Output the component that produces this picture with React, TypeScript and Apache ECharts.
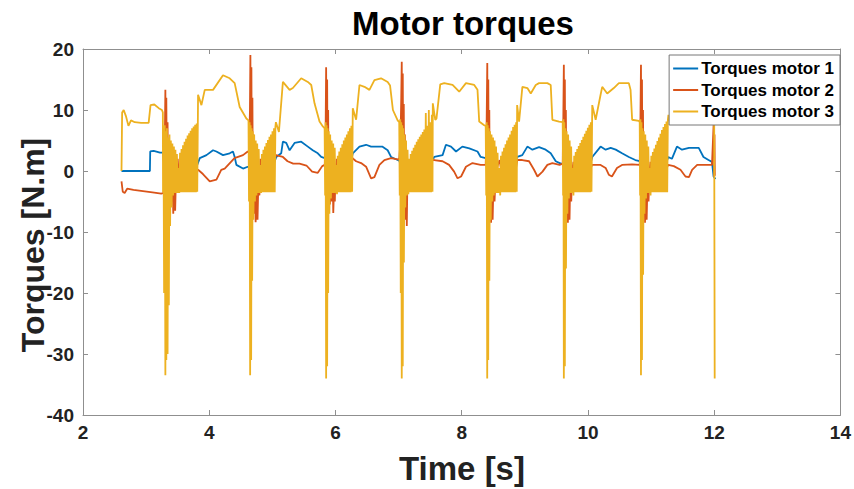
import React, { useEffect, useRef } from "react";
import * as echarts from "echarts";

// ---------- data (time [s], torque [N.m]) ----------
const seriesNames = ["Torques motor 1", "Torques motor 2", "Torques motor 3"];
const seriesColors = ["#0072BD", "#D95319", "#EDB120"];

// Motor 1 (blue)
const m1Start = [[2.61,0],[3.06,0],[3.065,3.2],[3.12,3.3],[3.22,3.0],[3.265,3.0]];
const m1Cycle1 = [[3.28,1.5],[3.31,-1],[3.35,0.5],[3.40,-1.5],[3.45,0.5],[3.50,-1.5],[3.53,-2.3],[3.60,-1.5],[3.70,-1.0],[3.75,-0.5],[3.81,1.0],[3.85,2.1],[3.956,2.6],[4.06,3.4],[4.113,3.2],[4.218,2.6],[4.324,2.9],[4.376,3.2],[4.403,2.3],[4.43,1.0],[4.535,0.4],[4.61,0.7]];
const m1Cycle2 = [[4.64,0.5],[4.70,-1.5],[4.76,0.5],[4.81,-1.5],[4.90,-1.0],[5.00,0.5],[5.062,2.3],[5.14,2.9],[5.167,4.8],[5.22,4.6],[5.273,3.4],[5.352,4.6],[5.457,4.8],[5.562,4.0],[5.64,3.4],[5.72,2.9],[5.774,2.3],[5.83,2.1]];
const m1Cycle3 = [[5.86,0.5],[5.92,-1.5],[5.98,0.5],[6.03,-1.5],[6.12,-1.0],[6.22,0.5],[6.274,2.9],[6.38,4.0],[6.485,4.3],[6.564,4.0],[6.74,4.0],[6.827,3.4],[6.88,2.3],[6.985,1.8],[7.01,1.7]];
const m1Cycle4 = [[7.05,0.5],[7.10,-1.5],[7.16,0.5],[7.22,-1.5],[7.35,-1.0],[7.48,0.5],[7.565,2.3],[7.697,2.6],[7.75,4.3],[7.83,4.0],[7.91,3.2],[8.01,4.0],[8.12,3.7],[8.25,3.2],[8.30,2.3],[8.38,2.1]];
const m1Cycle5 = [[8.41,0.5],[8.46,-1.5],[8.52,0.5],[8.60,-1.5],[8.70,-1.0],[8.80,0.5],[8.88,2.3],[8.96,2.6],[9.04,4.0],[9.12,3.5],[9.225,3.9],[9.33,3.5],[9.41,2.9],[9.49,1.6],[9.57,1.2],[9.60,1.2]];
const m1Cycle6 = [[9.62,0.5],[9.68,-1.5],[9.74,0.5],[9.80,-1.5],[9.92,-1.0],[10.02,0.5],[10.068,2.3],[10.20,4.0],[10.28,3.5],[10.36,3.8],[10.44,3.5],[10.54,2.9],[10.648,2.3],[10.75,1.8],[10.82,1.6]];
const m1Cycle7 = [[10.84,0.5],[10.90,-1.5],[10.96,0.5],[11.02,-1.5],[11.12,-1.0],[11.22,0.5],[11.27,2.3],[11.33,2.0],[11.41,4.0],[11.49,3.5],[11.60,3.8],[11.755,3.8],[11.83,2.3],[11.91,1.8],[11.965,1.5],[11.99,-0.9],[12.02,-1.3]];

// Motor 2 (red)
const m2Start = [[2.61,-1.7],[2.63,-3.4],[2.66,-3.6],[2.70,-2.9],[2.80,-3.1],[2.95,-3.3],[3.10,-3.5],[3.24,-3.7],[3.28,-3.6]];
const m2Cycle1 = [[3.295,4],[3.305,13.3],[3.312,-2],[3.32,12],[3.33,-5],[3.34,8],[3.35,-6],[3.36,4],[3.375,-5.5],[3.39,1],[3.40,-5],[3.415,0],[3.43,-7],[3.445,-1],[3.46,-6.5],[3.475,0],[3.49,-2],[3.50,2.0],[3.52,-1],[3.56,0.5],[3.60,-1.5],[3.66,0.5],[3.72,-1.0],[3.78,0.3],[3.823,0.2],[3.90,-0.5],[4.008,-1.7],[4.114,-1.4],[4.19,0.2],[4.245,0.4],[4.40,2.1],[4.535,2.6],[4.61,3.2]];
const m2Cycle2 = [[4.63,3.0],[4.645,10],[4.652,19.0],[4.66,-3],[4.668,17],[4.676,-5],[4.684,12],[4.692,-6],[4.70,6],[4.71,-7],[4.72,2],[4.735,-8.4],[4.75,-2],[4.765,-8.0],[4.78,-1],[4.795,-4],[4.81,2.0],[4.83,-1.5],[4.87,0.5],[4.93,-1.5],[4.99,0.5],[5.04,2.0],[5.056,2.6],[5.167,2.3],[5.241,1.6],[5.33,1.2],[5.43,1.2],[5.54,0.9],[5.63,-0.1],[5.72,-0.3],[5.79,0.8],[5.83,1.0]];
const m2Cycle3 = [[5.845,8],[5.852,17.0],[5.86,-3],[5.868,15],[5.876,-4],[5.884,10],[5.892,-5],[5.90,5],[5.912,-5.5],[5.925,0],[5.94,-5],[5.955,0],[5.965,-6.9],[5.98,-2],[5.99,-5],[6.00,0],[6.02,2.0],[6.05,-1.5],[6.10,0.5],[6.16,-1.5],[6.22,0.5],[6.27,2.1],[6.327,1.6],[6.406,1.3],[6.485,0.7],[6.564,-1.2],[6.617,-1.0],[6.696,1.0],[6.775,1.8],[6.88,2.1],[6.985,1.9],[7.01,2.0]];
const m2Cycle4 = [[7.03,5],[7.042,12],[7.05,17.9],[7.058,-2],[7.066,16],[7.074,-4],[7.082,11],[7.09,-5],[7.10,6],[7.11,-8],[7.12,0],[7.13,-9],[7.14,-1],[7.15,-3],[7.16,1.8],[7.20,-1.5],[7.28,0.5],[7.36,-1.5],[7.44,0.5],[7.53,1.8],[7.565,1.8],[7.697,1.6],[7.80,1.0],[7.88,-0.1],[7.934,-1.2],[7.99,-0.9],[8.067,0.7],[8.17,1.3],[8.30,1.0],[8.38,1.0]];
const m2Cycle5 = [[8.395,8],[8.405,17.7],[8.413,-3],[8.421,15],[8.429,-4],[8.437,10],[8.445,-6],[8.455,5],[8.465,-8.5],[8.478,0],[8.49,-8],[8.505,-1],[8.52,-5],[8.54,0],[8.60,1.8],[8.65,-1.5],[8.72,0.5],[8.79,-1.5],[8.86,0.5],[8.88,1.8],[8.96,1.8],[9.067,1.6],[9.146,0.2],[9.20,-0.9],[9.28,-0.1],[9.357,1.0],[9.436,1.3],[9.55,1.0],[9.60,1.2]];
const m2Cycle6 = [[9.61,9],[9.618,17.4],[9.626,-3],[9.634,15],[9.642,-4],[9.65,10],[9.66,-6],[9.67,5],[9.682,-8.5],[9.695,0],[9.708,-8],[9.72,-1],[9.735,-5],[9.75,0],[9.77,1.5],[9.82,-1.5],[9.90,0.5],[9.97,-1.5],[10.04,0.5],[10.068,1.0],[10.20,1.0],[10.28,0.5],[10.33,-0.6],[10.38,-0.9],[10.46,0.5],[10.54,1.0],[10.70,1.1],[10.82,1.0]];
const m2Cycle7 = [[10.832,9],[10.84,17.4],[10.848,-3],[10.856,15],[10.864,-4],[10.872,10],[10.882,-6],[10.892,5],[10.904,-8.5],[10.917,0],[10.93,-8],[10.945,-1],[10.96,-5],[10.975,0],[10.99,1.5],[11.05,-1.5],[11.12,0.5],[11.19,-1.5],[11.25,0.5],[11.27,1.0],[11.36,0.8],[11.466,0.2],[11.545,-0.9],[11.60,-1.0],[11.65,0.2],[11.73,1.0],[11.86,1.0],[11.965,1.0],[11.995,8.7],[12.0,-1.0],[12.005,6],[12.01,-0.8]];

// Motor 3 (yellow)
const m3Start = [[2.61,0],[2.62,9.6],[2.645,10.0],[2.68,9.0],[2.72,7.4],[2.76,8.3],[2.82,8.0],[2.92,7.9],[3.04,7.9],[3.07,10.8],[3.13,10.9],[3.2,10.3],[3.25,10.0],[3.265,9.6]];
const m3Cycle1 = [[3.268,-3.5],[3.275,6.8],[3.285,-20],[3.295,7.5],[3.305,-33.5],[3.312,6.5],[3.32,-31],[3.33,7.0],[3.34,-30],[3.35,5.5],[3.36,-22],[3.37,6.0],[3.38,-9],[3.392,5.0],[3.404,-6],[3.416,4.5],[3.428,-4],[3.44,4.0],[3.452,-3.6],[3.464,3.5],[3.476,-3.6],[3.488,2.8],[3.5,-3.6],[3.512,0.5],[3.525,-3.6],[3.537,3.0],[3.549,-3.5],[3.561,3.6],[3.573,-3.5],[3.585,4.2],[3.597,-3.5],[3.609,4.8],[3.621,-3.5],[3.633,5.3],[3.645,-3.5],[3.657,5.8],[3.669,-3.5],[3.681,6.2],[3.693,-3.5],[3.705,6.6],[3.717,-3.5],[3.729,7.0],[3.741,-3.5],[3.753,7.3],[3.765,-3.5],[3.777,7.6],[3.789,-3.5],[3.801,7.8],[3.81,-3.4],[3.823,12.5],[3.876,10.8],[3.929,13.3],[4.06,13.3],[4.218,15.7],[4.324,15.2],[4.403,14.4],[4.482,10.5],[4.588,8.6],[4.622,8.3]];
const m3Cycle2 = [[4.63,-5],[4.64,8.0],[4.648,-33.5],[4.656,7.5],[4.664,-31],[4.672,7.0],[4.68,-18],[4.69,6.5],[4.7,-8],[4.712,6.0],[4.724,-5],[4.736,5.0],[4.748,-4],[4.76,4.5],[4.772,-3.6],[4.784,3.6],[4.796,-3.6],[4.81,1.0],[4.822,-3.6],[4.834,2.8],[4.846,-3.5],[4.858,3.5],[4.87,-3.5],[4.882,4.0],[4.894,-3.5],[4.906,4.6],[4.918,-3.5],[4.93,5.1],[4.942,-3.5],[4.954,5.6],[4.966,-3.5],[4.978,6.0],[4.99,-3.5],[5.002,6.5],[5.014,-3.5],[5.026,7.0],[5.038,-3.5],[5.048,7.2],[5.056,8.0],[5.104,6.4],[5.167,14.6],[5.273,13.3],[5.325,13.6],[5.457,15.2],[5.562,14.6],[5.616,14.1],[5.668,11.1],[5.747,8.1],[5.8,7.3],[5.828,7.0]];
const m3Cycle3 = [[5.836,-4],[5.844,8.0],[5.852,-34],[5.86,7.5],[5.868,-32],[5.876,7.0],[5.884,-20],[5.894,6.5],[5.904,-7],[5.916,6.0],[5.928,-4.5],[5.94,5.0],[5.952,-3.6],[5.964,4.5],[5.976,-3.6],[5.988,3.8],[6.0,-3.6],[6.012,1.0],[6.024,-3.8],[6.036,2.5],[6.048,-3.5],[6.06,3.2],[6.072,-3.5],[6.084,3.8],[6.096,-3.5],[6.108,4.4],[6.12,-3.5],[6.132,5.0],[6.144,-3.5],[6.156,5.5],[6.168,-3.5],[6.18,6.0],[6.192,-3.5],[6.204,6.5],[6.216,-3.5],[6.228,7.0],[6.24,-3.5],[6.252,7.4],[6.264,-3.4],[6.274,10.3],[6.327,8.4],[6.38,14.1],[6.459,13.8],[6.538,13.3],[6.617,14.9],[6.722,15.2],[6.827,14.6],[6.865,14.0],[6.91,10.0],[6.985,8.3],[7.01,8.0]];
const m3Cycle4 = [[7.018,-4],[7.026,8.5],[7.034,-20],[7.042,8.0],[7.05,-34],[7.058,7.5],[7.066,-32],[7.074,7.0],[7.084,-15],[7.094,6.0],[7.106,-6],[7.118,5.0],[7.13,-4],[7.142,3.5],[7.155,-3.8],[7.167,2.0],[7.179,-3.5],[7.191,2.8],[7.203,-3.5],[7.215,3.3],[7.227,-3.5],[7.239,3.8],[7.251,-3.5],[7.263,4.3],[7.275,-3.5],[7.287,4.8],[7.299,-3.5],[7.311,5.2],[7.323,-3.5],[7.335,5.6],[7.347,-3.5],[7.359,6.0],[7.371,-3.5],[7.383,6.4],[7.395,-3.5],[7.407,6.8],[7.419,-3.5],[7.431,9.5],[7.443,-3.5],[7.455,7.4],[7.467,-3.5],[7.479,10.0],[7.491,-3.5],[7.503,8.0],[7.515,-3.5],[7.527,9.2],[7.537,-3.4],[7.542,11.1],[7.581,8.4],[7.6,8.6],[7.66,14.2],[7.723,14.4],[7.855,14.1],[7.96,13.0],[8.067,14.4],[8.198,14.1],[8.25,13.3],[8.277,8.1],[8.356,7.5],[8.38,7.4]];
const m3Cycle5 = [[8.388,-4],[8.396,8.0],[8.404,-34],[8.412,7.5],[8.42,-31],[8.428,7.0],[8.438,-18],[8.448,6.5],[8.46,-8],[8.472,6.0],[8.484,-5],[8.496,5.5],[8.508,-4],[8.52,5.0],[8.532,-3.6],[8.544,4.0],[8.556,-3.6],[8.568,3.0],[8.58,-3.6],[8.595,0.5],[8.61,-4],[8.622,2.5],[8.634,-3.5],[8.646,3.2],[8.658,-3.5],[8.67,3.8],[8.682,-3.5],[8.694,4.4],[8.706,-3.5],[8.718,5.0],[8.73,-3.5],[8.742,5.5],[8.754,-3.5],[8.766,6.0],[8.778,-3.5],[8.79,6.6],[8.802,-3.5],[8.814,7.2],[8.826,-3.5],[8.838,7.6],[8.85,-3.5],[8.862,8.0],[8.872,-3.4],[8.878,10.8],[8.909,8.1],[8.961,13.8],[9.04,13.6],[9.094,12.7],[9.173,14.1],[9.225,14.4],[9.357,14.4],[9.41,14.1],[9.436,8.4],[9.542,8.1],[9.6,8.0]];
const m3Cycle6 = [[9.606,-4],[9.612,8.5],[9.618,-34],[9.626,8.0],[9.634,-32],[9.642,7.0],[9.652,-16],[9.662,6.5],[9.674,-7],[9.686,6.0],[9.698,-4.5],[9.71,5.0],[9.722,-3.6],[9.734,4.0],[9.746,-3.6],[9.758,0.5],[9.77,-4.0],[9.782,2.5],[9.794,-3.5],[9.806,3.1],[9.818,-3.5],[9.83,3.6],[9.842,-3.5],[9.854,4.1],[9.866,-3.5],[9.878,4.6],[9.89,-3.5],[9.902,5.1],[9.914,-3.5],[9.926,5.6],[9.938,-3.5],[9.95,6.1],[9.962,-3.5],[9.974,6.6],[9.986,-3.5],[9.998,7.1],[10.01,-3.5],[10.022,7.6],[10.034,-3.5],[10.046,8.0],[10.056,-3.4],[10.068,10.8],[10.122,8.4],[10.2,12.5],[10.226,13.8],[10.305,12.7],[10.41,13.6],[10.49,14.4],[10.648,14.4],[10.675,13.3],[10.7,8.4],[10.806,8.2],[10.82,8.0]];
const m3Cycle7 = [[10.826,-4],[10.832,8.5],[10.84,-33.5],[10.848,8.0],[10.856,-31],[10.864,7.0],[10.874,-17],[10.884,6.5],[10.896,-7],[10.908,6.0],[10.92,-4.5],[10.932,5.0],[10.944,-3.6],[10.956,4.0],[10.968,-3.6],[10.98,0.5],[10.992,-4.0],[11.004,2.5],[11.016,-3.5],[11.028,3.1],[11.04,-3.5],[11.052,3.7],[11.064,-3.5],[11.076,4.3],[11.088,-3.5],[11.1,4.9],[11.112,-3.5],[11.124,5.5],[11.136,-3.5],[11.148,6.1],[11.16,-3.5],[11.172,6.7],[11.184,-3.5],[11.196,7.2],[11.208,-3.5],[11.22,7.7],[11.232,-3.5],[11.244,8.1],[11.256,-3.5],[11.266,8.4],[11.275,9.2],[11.3,8.0],[11.36,13.8],[11.45,13.0],[11.55,14.3],[11.72,14.4],[11.76,13.5],[11.79,8.5],[11.9,8.2],[12.0,8.0],[12.008,-34]];

const motor1 = [...m1Start, ...m1Cycle1, ...m1Cycle2, ...m1Cycle3, ...m1Cycle4, ...m1Cycle5, ...m1Cycle6, ...m1Cycle7];
const motor2 = [...m2Start, ...m2Cycle1, ...m2Cycle2, ...m2Cycle3, ...m2Cycle4, ...m2Cycle5, ...m2Cycle6, ...m2Cycle7];
const motor3 = [...m3Start, ...m3Cycle1, ...m3Cycle2, ...m3Cycle3, ...m3Cycle4, ...m3Cycle5, ...m3Cycle6, ...m3Cycle7];
const allSeries = [motor1, motor2, motor3];

const FONT = '"Liberation Sans", Arial, Helvetica, sans-serif';
const AXIS_COLOR = "#8f8f8f";

function xAxisDef(position: "bottom" | "top", showLabel: boolean) {
  return {
    type: "value",
    position,
    min: 2,
    max: 14,
    interval: 2,
    axisLine: { show: true, onZero: false, lineStyle: { color: AXIS_COLOR, width: 1 } },
    axisTick: { show: true, inside: true, length: 5, lineStyle: { color: AXIS_COLOR } },
    axisLabel: { show: showLabel, color: "#222", fontWeight: "bold", fontSize: 19, fontFamily: FONT, margin: 8 },
    splitLine: { show: false },
  };
}
function yAxisDef(position: "left" | "right", showLabel: boolean) {
  return {
    type: "value",
    position,
    min: -40,
    max: 20,
    interval: 10,
    axisLine: { show: true, onZero: false, lineStyle: { color: AXIS_COLOR, width: 1 } },
    axisTick: { show: true, inside: true, length: 5, lineStyle: { color: AXIS_COLOR } },
    axisLabel: { show: showLabel, color: "#222", fontWeight: "bold", fontSize: 19, fontFamily: FONT, margin: 9 },
    splitLine: { show: false },
  };
}

export default function App() {
  const ref = useRef<HTMLDivElement>(null);
  useEffect(() => {
    if (!ref.current) return;
    const chart = echarts.init(ref.current, null, { renderer: "svg" });
    chart.setOption({
      animation: false,
      backgroundColor: "#ffffff",
      grid: { left: 83, right: 12, top: 49, bottom: 74, containLabel: false },
      xAxis: [xAxisDef("bottom", true), xAxisDef("top", false)],
      yAxis: [yAxisDef("left", true), yAxisDef("right", false)],
      legend: {
        orient: "vertical",
        right: 14,
        top: 55,
        backgroundColor: "#ffffff",
        borderColor: "#777",
        borderWidth: 1,
        borderRadius: 0,
        padding: [5, 6, 5, 4],
        itemGap: 4.5,
        itemWidth: 25,
        itemHeight: 2,
        icon: "rect",
        textStyle: { fontSize: 17, fontWeight: "bold", color: "#000", fontFamily: FONT, padding: [0, 0, 0, -2] },
        data: seriesNames,
      },
      graphic: [
        {
          type: "text",
          x: 463,
          y: 23,
          style: { text: "Motor torques", fill: "#000", font: `bold 33px ${FONT}`, align: "center", verticalAlign: "middle" },
        },
        {
          type: "text",
          x: 462,
          y: 468,
          style: { text: "Time [s]", fill: "#222", font: `bold 33px ${FONT}`, align: "center", verticalAlign: "middle" },
        },
        {
          type: "text",
          x: 33,
          y: 245,
          rotation: Math.PI / 2,
          style: { text: "Torques [N.m]", fill: "#222", font: `bold 32px ${FONT}`, align: "center", verticalAlign: "middle" },
        },
      ],
      series: allSeries.map((d, i) => ({
        type: "line",
        name: seriesNames[i],
        data: d,
        xAxisIndex: 0,
        yAxisIndex: 0,
        showSymbol: false,
        symbol: "none",
        lineStyle: { width: 1.8, color: seriesColors[i] },
        itemStyle: { color: seriesColors[i] },
      })),
    });
    return () => chart.dispose();
  }, []);
  return <div ref={ref} style={{ position: "fixed", left: 0, top: 0, width: 854, height: 489 }} />;
}
